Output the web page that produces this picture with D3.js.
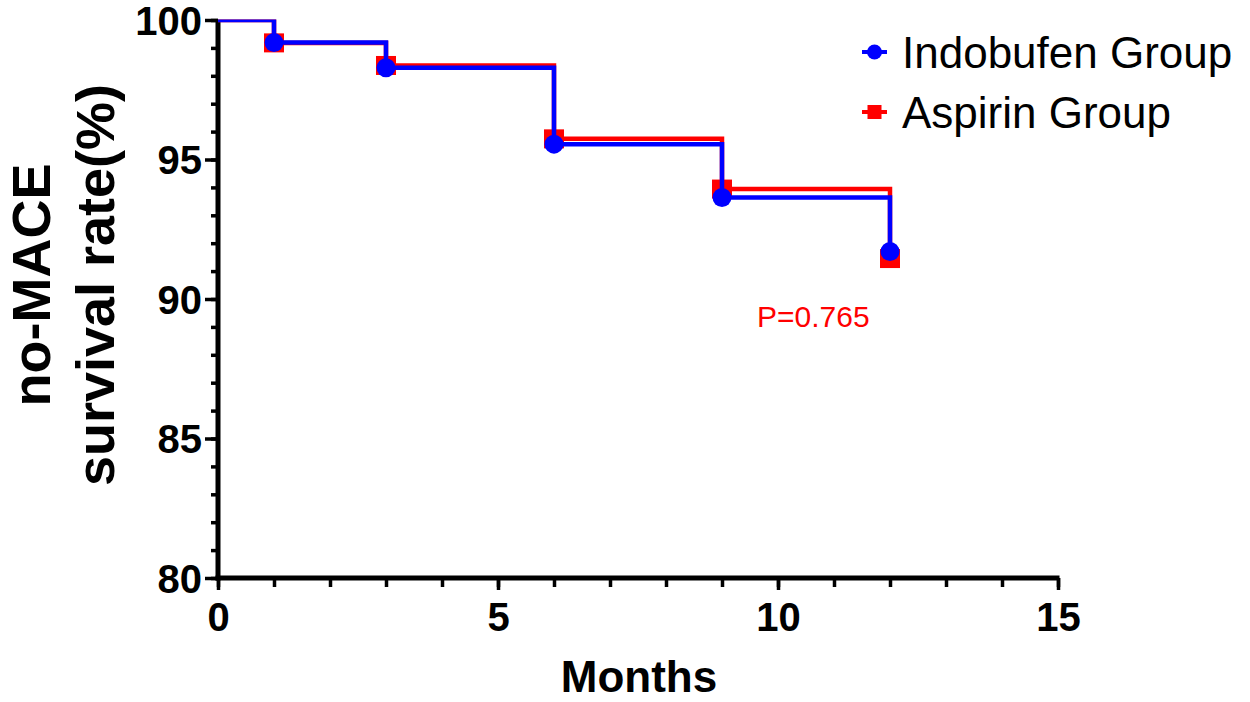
<!DOCTYPE html>
<html>
<head>
<meta charset="utf-8">
<script src="https://cdn.jsdelivr.net/npm/d3@7"></script>
<style>
  body { margin: 0; background: #fff; }
  text { font-family: "Liberation Sans", Arial, sans-serif; }
</style>
</head>
<body>
<div class="chart"></div>
<script>
var svgWidth = 1250;
var svgHeight = 702;

// data
var months = [0, 1, 3, 6, 9, 12];
var indobufen = [100, 99.19, 98.29, 95.55, 93.64, 91.7];
var aspirin = [100, 99.18, 98.37, 95.74, 93.94, 91.45];
var seriesNames = ["Indobufen Group", "Aspirin Group"];
var xTicks = [0, 5, 10, 15];
var yTicks = [80, 85, 90, 95, 100];
var pText = "P=0.765";

var blue = "#0000ff";
var red = "#ff0000";

var svg = d3.select(".chart")
  .append("svg")
  .attr("width", svgWidth)
  .attr("height", svgHeight);

var x = d3.scaleLinear().domain([0, 15]).range([218, 1058]);
var y = d3.scaleLinear().domain([80, 100]).range([578, 20]);

// clip so the top segment at 100% is cut in half like the original
svg.append("clipPath").attr("id", "plotClip")
  .append("rect")
  .attr("x", x(0))
  .attr("y", y(100) - 0.5)
  .attr("width", x(15) - x(0) + 20)
  .attr("height", y(80) - y(100) + 10);

// minor ticks
var yMinor = d3.range(80, 101, 1);
var xMinor = d3.range(0, 16, 1);

svg.append("g")
  .attr("transform", `translate(${x(0)},0)`)
  .call(d3.axisLeft(y).tickValues(yMinor).tickSize(7).tickSizeOuter(0).tickFormat(""))
  .call(g => g.select(".domain").remove())
  .call(g => g.selectAll("line").attr("stroke", "#000").attr("stroke-width", 3.5));

svg.append("g")
  .attr("transform", `translate(0,${y(80)})`)
  .call(d3.axisBottom(x).tickValues(xMinor).tickSize(9).tickSizeOuter(0).tickFormat(""))
  .call(g => g.select(".domain").remove())
  .call(g => g.selectAll("line").attr("stroke", "#000").attr("stroke-width", 3.5));

// major axes
var leftAxis = svg.append("g")
  .attr("transform", `translate(${x(0)},0)`)
  .call(d3.axisLeft(y).tickValues(yTicks).tickSize(13).tickSizeOuter(0).tickPadding(3));

var bottomAxis = svg.append("g")
  .attr("transform", `translate(0,${y(80)})`)
  .call(d3.axisBottom(x).tickValues(xTicks).tickSize(12).tickSizeOuter(0).tickPadding(13));

[leftAxis, bottomAxis].forEach(function(g) {
  g.select(".domain").attr("stroke", "#000").attr("stroke-width", 5);
  g.selectAll(".tick line").attr("stroke", "#000").attr("stroke-width", 3.5);
  g.selectAll(".tick text")
    .attr("fill", "#000")
    .attr("font-size", 40)
    .attr("font-weight", "bold")
    .attr("font-family", "Liberation Sans, Arial, sans-serif");
});
leftAxis.selectAll(".tick text").attr("dy", "0.36em");
// extend domains a little so the corner joins cleanly
bottomAxis.select(".domain").attr("d", `M${x(0) - 2.5},0H${x(15) + 1.5}`);
leftAxis.select(".domain").attr("d", `M0,${y(100)}V${y(80) + 2.5}`);

// survival curves
var stepLine = d3.line()
  .x(d => x(d[0]))
  .y(d => y(d[1]))
  .curve(d3.curveStepAfter);

var plot = svg.append("g").attr("clip-path", "url(#plotClip)");

function drawSeries(values, color, marker) {
  var pts = months.map((m, i) => [m, values[i]]);
  plot.append("path")
    .datum(pts)
    .attr("fill", "none")
    .attr("stroke", color)
    .attr("stroke-width", 4.5)
    .attr("d", stepLine);

  var evts = pts.slice(1);
  if (marker === "square") {
    plot.selectAll(null)
      .data(evts)
      .enter()
      .append("rect")
      .attr("x", d => x(d[0]) - 10)
      .attr("y", d => y(d[1]) - 9.5)
      .attr("width", 20)
      .attr("height", 19)
      .attr("fill", color);
  } else {
    plot.selectAll(null)
      .data(evts)
      .enter()
      .append("circle")
      .attr("cx", d => x(d[0]))
      .attr("cy", d => y(d[1]))
      .attr("r", 9.5)
      .attr("fill", color);
  }
}

drawSeries(aspirin, red, "square");
drawSeries(indobufen, blue, "circle");

// legend
var legend = svg.append("g");
var legendRows = [
  { name: seriesNames[0], color: blue, marker: "circle", cy: 52 },
  { name: seriesNames[1], color: red, marker: "square", cy: 112 }
];
legendRows.forEach(function(r) {
  legend.append("line")
    .attr("x1", 862).attr("x2", 887)
    .attr("y1", r.cy).attr("y2", r.cy)
    .attr("stroke", r.color).attr("stroke-width", 4);
  if (r.marker === "circle") {
    legend.append("circle")
      .attr("cx", 874.5).attr("cy", r.cy).attr("r", 7.5)
      .attr("fill", r.color);
  } else {
    legend.append("rect")
      .attr("x", 867.5).attr("y", r.cy - 7)
      .attr("width", 14).attr("height", 14)
      .attr("fill", r.color);
  }
  legend.append("text")
    .attr("x", 902)
    .attr("y", r.cy + 15.5)
    .attr("font-size", 44)
    .attr("fill", "#000")
    .text(r.name);
});

// p-value
svg.append("text")
  .attr("x", 757)
  .attr("y", 327)
  .attr("font-size", 30)
  .attr("fill", red)
  .text(pText);

// axis titles
svg.append("text")
  .attr("transform", "translate(50,285) rotate(-90)")
  .attr("text-anchor", "middle")
  .attr("font-size", 54)
  .attr("font-weight", "bold")
  .text("no-MACE");

svg.append("text")
  .attr("transform", "translate(114,285) rotate(-90)")
  .attr("text-anchor", "middle")
  .attr("font-size", 54)
  .attr("font-weight", "bold")
  .text("survival rate(%)");

svg.append("text")
  .attr("x", 639)
  .attr("y", 692)
  .attr("text-anchor", "middle")
  .attr("font-size", 44)
  .attr("font-weight", "bold")
  .text("Months");
</script>
</body>
</html>
